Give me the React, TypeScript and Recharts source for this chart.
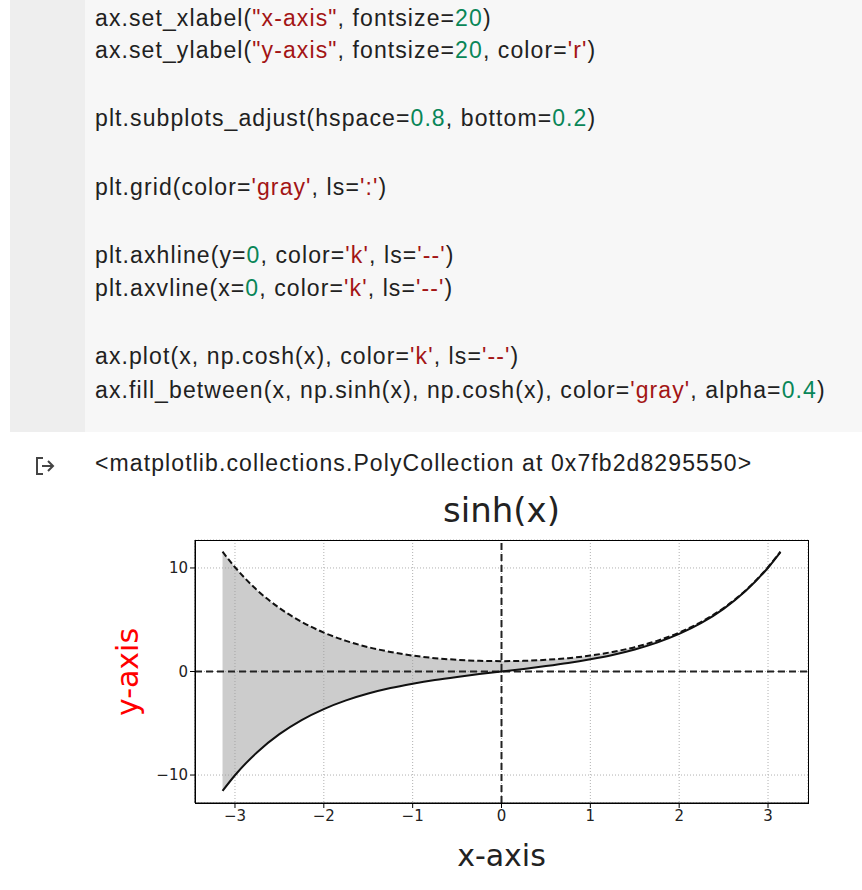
import {
  Area,
  CartesianGrid,
  ComposedChart,
  Line,
  ReferenceLine,
  XAxis,
  YAxis,
} from 'recharts'

const xs = [-3.14, -3.0, -2.75, -2.5, -2.25, -2, -1.75, -1.5, -1.25, -1, -0.75, -0.5, -0.25, 0, 0.25, 0.5, 0.75, 1, 1.25, 1.5, 1.75, 2, 2.25, 2.5, 2.75, 3.0, 3.14]
const sinhVals = [-11.53, -10.02, -7.79, -6.05, -4.69, -3.63, -2.79, -2.13, -1.6, -1.18, -0.82, -0.52, -0.25, 0, 0.25, 0.52, 0.82, 1.18, 1.6, 2.13, 2.79, 3.63, 4.69, 6.05, 7.79, 10.02, 11.53]
const coshVals = [11.57, 10.07, 7.85, 6.13, 4.8, 3.76, 2.96, 2.35, 1.89, 1.54, 1.29, 1.13, 1.03, 1, 1.03, 1.13, 1.29, 1.54, 1.89, 2.35, 2.96, 3.76, 4.8, 6.13, 7.85, 10.07, 11.57]
const xTicks = [-3, -2, -1, 0, 1, 2, 3]
const yTicks = [-10, 0, 10]

const data = xs.map((x, i) => ({
  x,
  sinh: sinhVals[i],
  cosh: coshVals[i],
  band: [sinhVals[i], coshVals[i]],
}))

const NUM = '#098658'
const STR = '#a31515'
const fmt = (v: number) => (v < 0 ? `\u2212${-v}` : `${v}`)

const codeLines: [string, number][][] = [
  [['ax.set_xlabel(', 0], ['"x-axis"', 2], [', fontsize=', 0], ['20', 1], [')', 0]],
  [['ax.set_ylabel(', 0], ['"y-axis"', 2], [', fontsize=', 0], ['20', 1], [', color=', 0], ["'r'", 2], [')', 0]],
  [['plt.subplots_adjust(hspace=', 0], ['0.8', 1], [', bottom=', 0], ['0.2', 1], [')', 0]],
  [['plt.grid(color=', 0], ["'gray'", 2], [', ls=', 0], ["':'", 2], [')', 0]],
  [['plt.axhline(y=', 0], ['0', 1], [', color=', 0], ["'k'", 2], [', ls=', 0], ["'--'", 2], [')', 0]],
  [['plt.axvline(x=', 0], ['0', 1], [', color=', 0], ["'k'", 2], [', ls=', 0], ["'--'", 2], [')', 0]],
  [['ax.plot(x, np.cosh(x), color=', 0], ["'k'", 2], [', ls=', 0], ["'--'", 2], [')', 0]],
  [['ax.fill_between(x, np.sinh(x), np.cosh(x), color=', 0], ["'gray'", 2], [', alpha=', 0], ['0.4', 1], [')', 0]],
]
const lineTops = [5, 37, 105, 174, 242, 275, 343, 377]

export default function App() {
  return (
    <div style={{ position: 'absolute', left: 0, top: 0, width: 862, height: 890, background: '#fff', fontFamily: '"Liberation Sans", Arial, sans-serif', overflow: 'hidden' }}>
      <div style={{ position: 'absolute', left: 10, top: 0, width: 75, height: 432, background: '#eeeeee' }} />
      <div style={{ position: 'absolute', left: 85, top: 0, width: 777, height: 432, background: '#f7f7f7' }} />
      {codeLines.map((line, i) => (
        <div key={i} style={{ position: 'absolute', left: 95, top: lineTops[i], fontSize: 23, letterSpacing: 1.1, color: '#212121', whiteSpace: 'pre' }}>
          {line.map(([t, k], j) => (
            <span key={j} style={{ color: k === 1 ? NUM : k === 2 ? STR : '#212121' }}>{t}</span>
          ))}
        </div>
      ))}
      <svg style={{ position: 'absolute', left: 34, top: 455 }} width={24} height={22}>
        <path d="M9 3 H3 V19 H9" fill="none" stroke="#444" strokeWidth={2} />
        <path d="M8 11 H19 M14 6 L19 11 L14 16" fill="none" stroke="#444" strokeWidth={2} />
      </svg>
      <div style={{ position: 'absolute', left: 95, top: 450, fontSize: 23, letterSpacing: 1.1, color: '#212121', whiteSpace: 'nowrap' }}>
        {'<matplotlib.collections.PolyCollection at 0x7fb2d8295550>'}
      </div>
      <div style={{ position: 'absolute', left: 195, width: 613, top: 490, textAlign: 'center', fontSize: 34, fontFamily: '"DejaVu Sans"', color: '#222' }}>
        sinh(x)
      </div>
      <div style={{ position: 'absolute', left: 195, width: 613, top: 838, textAlign: 'center', fontSize: 30, fontFamily: '"DejaVu Sans"', color: '#222' }}>
        x-axis
      </div>
      <div style={{ position: 'absolute', left: 127, top: 672, transform: 'translate(-50%, -50%) rotate(-90deg)', fontSize: 30, fontFamily: '"DejaVu Sans"', color: 'red', whiteSpace: 'nowrap' }}>
        y-axis
      </div>
      <div style={{ position: 'absolute', left: 0, top: 490 }}>
        <ComposedChart width={862} height={400} data={data} margin={{ top: 50, right: 54, bottom: 57, left: 155 }}>
          <CartesianGrid stroke="#b0b0b0" strokeDasharray="1 2" />
          <XAxis
            dataKey="x"
            type="number"
            domain={[-3.45, 3.45]}
            ticks={xTicks}
            tickFormatter={fmt}
            allowDataOverflow
            height={30}
            tickSize={5}
            stroke="#000"
            tick={{ fontSize: 15, fill: '#222', fontFamily: '"DejaVu Sans"' }}
          />
          <YAxis
            type="number"
            domain={[-12.7, 12.7]}
            ticks={yTicks}
            tickFormatter={fmt}
            allowDataOverflow
            width={40}
            tickSize={5}
            stroke="#000"
            tick={{ fontSize: 15, fill: '#222', fontFamily: '"DejaVu Sans"' }}
          />
          <Area dataKey="band" type="monotone" fill="#999" fillOpacity={0.5} stroke="none" isAnimationActive={false} />
          <ReferenceLine y={0} stroke="#222" strokeWidth={2} strokeDasharray="7 4" />
          <ReferenceLine x={0} stroke="#222" strokeWidth={2} strokeDasharray="7 4" />
          <Line dataKey="sinh" type="monotone" stroke="#111" strokeWidth={2} dot={false} isAnimationActive={false} />
          <Line dataKey="cosh" type="monotone" stroke="#111" strokeWidth={2} strokeDasharray="6 3" dot={false} isAnimationActive={false} />
        </ComposedChart>
      </div>
      <div style={{ position: 'absolute', left: 195, top: 540, width: 612, height: 262, border: '1px solid #000', pointerEvents: 'none' }} />
    </div>
  )
}
